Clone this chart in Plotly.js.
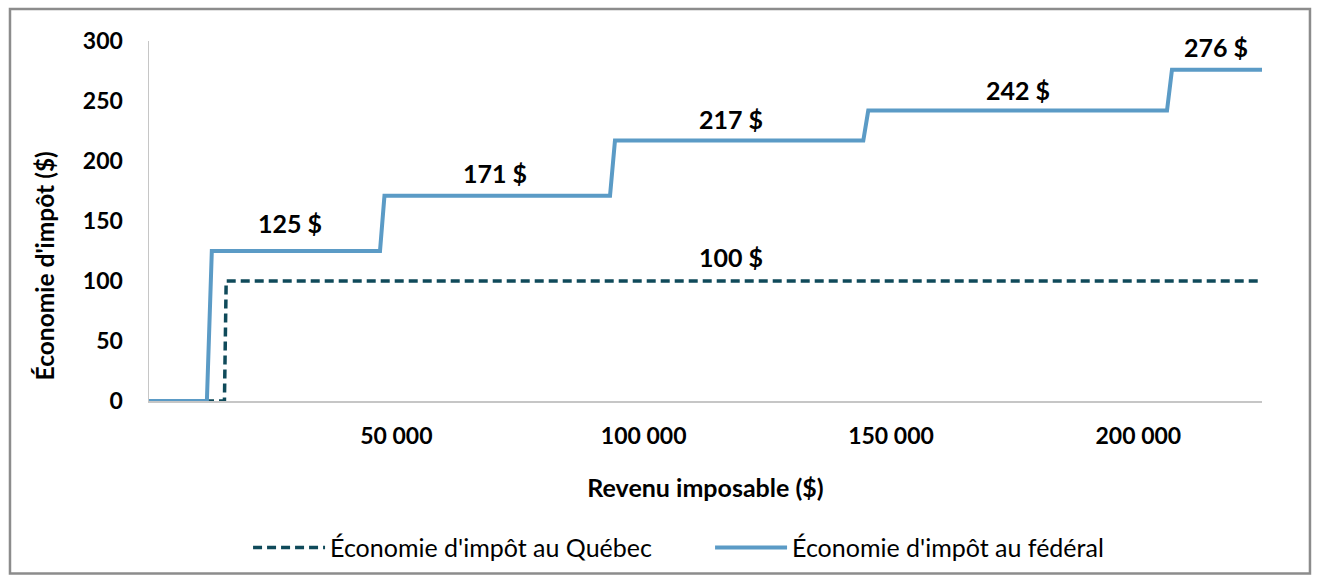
<!DOCTYPE html>
<html>
<head>
<meta charset="utf-8">
<script src="https://cdn.plot.ly/plotly-3.0.1.min.js"></script>
<style>
  html, body { margin: 0; padding: 0; background: #ffffff; }
  #chart { width: 1320px; height: 582px; }
</style>
</head>
<body>
<div id="chart"></div>
<script>
// ---- Data ----
const seriesNames = ["Économie d'impôt au Québec", "Économie d'impôt au fédéral"];

// Québec tax saving by taxable income
const quebecIncome = [0, 15250, 15600, 225000];
const quebecSaving = [0, 0, 100, 100];

// Federal tax saving by taxable income
const federalIncome = [0, 11700, 12700, 46700, 47600, 93200, 94200, 144400, 145400, 205800, 206800, 225000];
const federalSaving = [0, 0, 125, 125, 171, 171, 217, 217, 242, 242, 276, 276];

// Data labels: income at which each label sits, and the value shown
const federalLabelIncome = [28500, 69950, 117600, 175600, 215700];
const federalLabelValue = [125, 171, 217, 242, 276];
const quebecLabelIncome = [117700];
const quebecLabelValue = [100];

// Axis ticks
const xTickVals = [50000, 100000, 150000, 200000];
const xTickText = ["50 000", "100 000", "150 000", "200 000"];
const yTickVals = [0, 50, 100, 150, 200, 250, 300];

const xTitle = "Revenu imposable ($)";
const yTitle = "Économie d'impôt ($)";

// ---- Styles ----
const FONT = "Lato, 'Open Sans', sans-serif";
const quebecColor = "#0f4a5a";
const federalColor = "#5b9bc6";
const labelShift = [28, 23, 22, 21, 23];

const traces = [
  {
    x: quebecIncome, y: quebecSaving, name: seriesNames[0],
    type: "scatter", mode: "lines",
    line: { color: quebecColor, width: 3.5, dash: "9px,5px" },
    hoverinfo: "x+y"
  },
  {
    x: federalIncome, y: federalSaving, name: seriesNames[1],
    type: "scatter", mode: "lines",
    line: { color: federalColor, width: 4 },
    hoverinfo: "x+y"
  }
];

const fmt = v => v + " $";
const annotations = [];
federalLabelIncome.forEach((x, i) => {
  annotations.push({
    x: x, y: federalLabelValue[i], xref: "x", yref: "y",
    text: "<b>" + fmt(federalLabelValue[i]) + "</b>",
    showarrow: false, yanchor: "middle", xanchor: "center", yshift: labelShift[i],
    font: { family: FONT, size: 25, color: "#000000" }
  });
});
quebecLabelIncome.forEach((x, i) => {
  annotations.push({
    x: x, y: quebecLabelValue[i], xref: "x", yref: "y",
    text: "<b>" + fmt(quebecLabelValue[i]) + "</b>",
    showarrow: false, yanchor: "middle", xanchor: "center", yshift: 24,
    font: { family: FONT, size: 25, color: "#000000" }
  });
});
// Y-axis title (placed like the reference, lower than the plot centre)
annotations.push({
  x: -0.094, y: 0.375, xref: "paper", yref: "paper",
  text: "<b>" + yTitle + "</b>", textangle: -90,
  showarrow: false, xanchor: "center", yanchor: "middle",
  font: { family: FONT, size: 24.5, color: "#000000" }
});

const layout = {
  width: 1320, height: 582,
  margin: { l: 149, r: 58, t: 41, b: 180 },
  paper_bgcolor: "#ffffff", plot_bgcolor: "#ffffff",
  showlegend: true,
  legend: {
    orientation: "h", x: 0.089, xanchor: "left", y: -0.404, yanchor: "middle",
    font: { family: FONT, size: 25, color: "#000000" },
    itemwidth: 72, entrywidth: 375, entrywidthmode: "pixels",
    tracegroupgap: 0, traceorder: "normal"
  },
  xaxis: {
    range: [0, 225000], tickvals: xTickVals, ticktext: xTickText,
    showgrid: false, zeroline: false, showline: true, linecolor: "#c6c6c6", linewidth: 1.5,
    ticks: "", ticklabelstandoff: 14,
    tickfont: { family: FONT, size: 23, color: "#000000", weight: "bold" },
    title: { text: "<b>" + xTitle + "</b>", standoff: 31, font: { family: FONT, size: 25, color: "#000000" } },
    fixedrange: true
  },
  yaxis: {
    range: [0, 300], tickvals: yTickVals,
    showgrid: false, zeroline: false, showline: true, linecolor: "#c6c6c6", linewidth: 1.5,
    ticks: "", ticklabelstandoff: 20,
    tickfont: { family: FONT, size: 23, color: "#000000", weight: "bold" },
    fixedrange: true
  },
  annotations: annotations,
  shapes: [{
    type: "rect", xref: "paper", yref: "paper",
    x0: -0.1249, x1: 1.0431, y0: -0.4792, y1: 1.0886,
    line: { color: "#8c8c8c", width: 2.5 }, fillcolor: "rgba(0,0,0,0)", layer: "below"
  }]
};

Plotly.newPlot("chart", traces, layout, { displayModeBar: false, staticPlot: true });
</script>
</body>
</html>
